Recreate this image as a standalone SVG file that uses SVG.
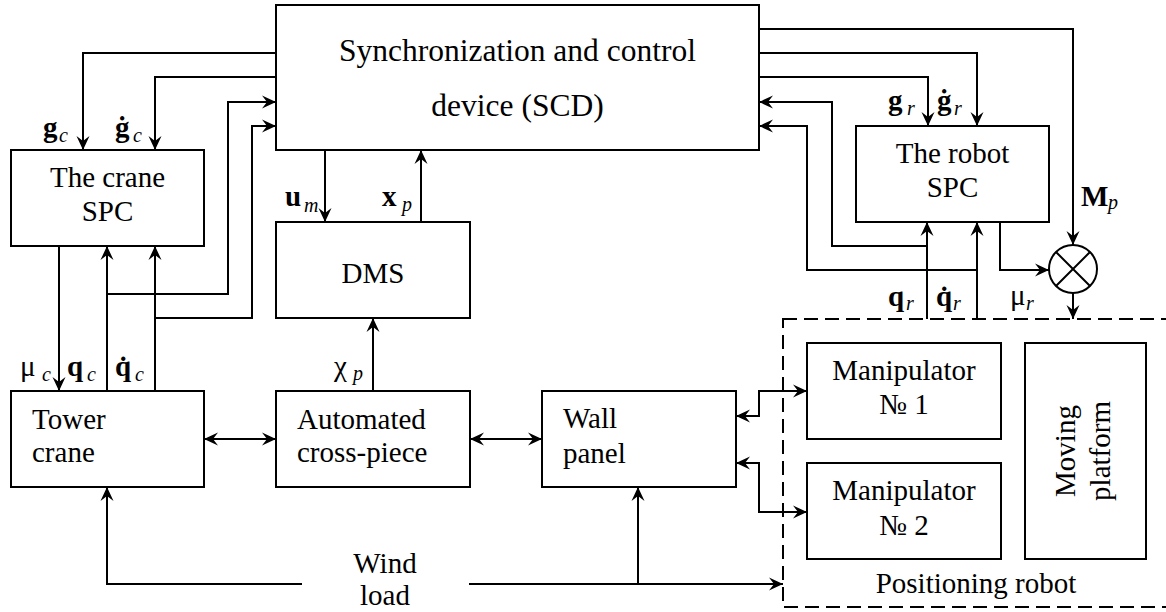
<svg xmlns="http://www.w3.org/2000/svg" width="1166" height="612" viewBox="0 0 1166 612" font-family="'Liberation Serif', 'Times New Roman', Tinos, 'Noto Serif', 'DejaVu Serif', Times, serif">
<style>
.box{fill:#fff;stroke:#000;stroke-width:2}
.ln{fill:none;stroke:#000;stroke-width:2}
.dash{fill:none;stroke:#000;stroke-width:2;stroke-dasharray:14 7}
text{font-size:29px;fill:#000}
.c{text-anchor:middle}
.b{font-weight:bold}
.s{font-style:italic;font-size:20px}
.big{font-size:31.5px}
</style>
<defs>
<marker id="ah" markerUnits="userSpaceOnUse" markerWidth="16" markerHeight="16" viewBox="-15 -8 16 16" refX="0" refY="0" orient="auto-start-reverse">
<path d="M0,0 L-14,-6.5 L-9,0 L-14,6.5 Z" fill="#000"/>
</marker>
</defs>
<rect width="1166" height="612" fill="#fff"/>

<g id="positioning-robot">
<rect class="dash" x="783" y="319" width="420" height="288"/>
<text class="c" x="976" y="593">Positioning robot</text>
</g>

<g id="scd">
<rect class="box" x="276" y="5" width="483" height="145"/>
<text class="c big" x="517.5" y="61">Synchronization and control</text>
<text class="c big" x="517.5" y="116">device (SCD)</text>
</g>

<g id="crane-spc">
<rect class="box" x="11" y="150" width="193" height="96"/>
<text class="c" x="107.5" y="187">The crane</text>
<text class="c" x="107.5" y="221">SPC</text>
</g>

<g id="robot-spc">
<rect class="box" x="856" y="126" width="193" height="96"/>
<text class="c" x="952.5" y="163">The robot</text>
<text class="c" x="952.5" y="197">SPC</text>
</g>

<g id="dms">
<rect class="box" x="276" y="222" width="194" height="96"/>
<text class="c" x="373" y="283">DMS</text>
</g>

<g id="tower-crane">
<rect class="box" x="11" y="391" width="193" height="96"/>
<text x="32" y="429">Tower</text>
<text x="32" y="462">crane</text>
</g>

<g id="cross-piece">
<rect class="box" x="276" y="391" width="194" height="96"/>
<text x="297" y="429">Automated</text>
<text x="297" y="462">cross-piece</text>
</g>

<g id="wall-panel">
<rect class="box" x="542" y="391" width="194" height="96"/>
<text x="563" y="428">Wall</text>
<text x="563" y="463">panel</text>
</g>

<g id="manipulator-1">
<rect class="box" x="807" y="343" width="194" height="96"/>
<text class="c" x="904" y="380">Manipulator</text>
<text class="c" x="904" y="414">№ 1</text>
</g>

<g id="manipulator-2">
<rect class="box" x="807" y="463" width="194" height="96"/>
<text class="c" x="904" y="500">Manipulator</text>
<text class="c" x="904" y="535">№ 2</text>
</g>

<g id="moving-platform">
<rect class="box" x="1025" y="343" width="121" height="216"/>
<g transform="translate(1085,451) rotate(-90)">
<text class="c" x="0" y="-10">Moving</text>
<text class="c" x="0" y="25">platform</text>
</g>
</g>

<g id="multiplier">
<circle class="ln" cx="1073" cy="269" r="24"/>
<path class="ln" d="M1056,252 L1090,286 M1090,252 L1056,286"/>
</g>

<g id="connectors">
<polyline class="ln" points="276,53 83,53 83,150" marker-end="url(#ah)"/>
<polyline class="ln" points="276,77 155,77 155,150" marker-end="url(#ah)"/>
<polyline class="ln" points="59,246 59,391" marker-end="url(#ah)"/>
<polyline class="ln" points="107,391 107,246" marker-end="url(#ah)"/>
<polyline class="ln" points="107,294 228,294 228,102 276,102" marker-end="url(#ah)"/>
<polyline class="ln" points="155,391 155,246" marker-end="url(#ah)"/>
<polyline class="ln" points="155,318 252,318 252,126 276,126" marker-end="url(#ah)"/>
<polyline class="ln" points="325,150 325,222" marker-end="url(#ah)"/>
<polyline class="ln" points="421,222 421,150" marker-end="url(#ah)"/>
<polyline class="ln" points="373,391 373,318" marker-end="url(#ah)"/>
<polyline class="ln" points="204,439 276,439" marker-start="url(#ah)" marker-end="url(#ah)"/>
<polyline class="ln" points="470,439 542,439" marker-start="url(#ah)" marker-end="url(#ah)"/>
<polyline class="ln" points="736,416 759,416 759,391 807,391" marker-start="url(#ah)" marker-end="url(#ah)"/>
<polyline class="ln" points="736,463 759,463 759,512 807,512" marker-start="url(#ah)" marker-end="url(#ah)"/>
<polyline class="ln" points="302,584 107,584 107,487" marker-end="url(#ah)"/>
<polyline class="ln" points="469,584 783,584" marker-end="url(#ah)"/>
<polyline class="ln" points="638,584 638,487" marker-end="url(#ah)"/>
<polyline class="ln" points="759,29 1073,29 1073,245" marker-end="url(#ah)"/>
<polyline class="ln" points="759,53 977,53 977,126" marker-end="url(#ah)"/>
<polyline class="ln" points="759,77 928,77 928,126" marker-end="url(#ah)"/>
<polyline class="ln" points="927,319 927,222" marker-end="url(#ah)"/>
<polyline class="ln" points="927,246 832,246 832,102 759,102" marker-end="url(#ah)"/>
<polyline class="ln" points="977,319 977,222" marker-end="url(#ah)"/>
<polyline class="ln" points="977,270 807,270 807,126 759,126" marker-end="url(#ah)"/>
<polyline class="ln" points="1000,222 1000,270 1049,270" marker-end="url(#ah)"/>
<polyline class="ln" points="1073,293 1073,319" marker-end="url(#ah)"/>
</g>

<g id="labels">
<text><tspan class="b" x="43" y="137">g</tspan><tspan class="s" x="59" y="142">c</tspan></text>
<text><tspan class="b" x="115" y="137">ġ</tspan><tspan class="s" x="133" y="142">c</tspan></text>
<text><tspan x="20" y="376">μ</tspan><tspan class="s" x="42" y="381">c</tspan></text>
<text><tspan class="b" x="67" y="376">q</tspan><tspan class="s" x="87" y="381">c</tspan></text>
<text><tspan class="b" x="115" y="376">q̇</tspan><tspan class="s" x="135" y="381">c</tspan></text>
<text><tspan class="b" x="285" y="206">u</tspan><tspan class="s" x="304" y="212">m</tspan></text>
<text><tspan class="b" x="382" y="206">x</tspan><tspan class="s" x="402" y="211">p</tspan></text>
<text><tspan x="334" y="376">χ</tspan><tspan class="s" x="353" y="380">p</tspan></text>
<text><tspan class="b" x="888" y="110">g</tspan><tspan class="s" x="907" y="115">r</tspan></text>
<text><tspan class="b" x="937" y="110">ġ</tspan><tspan class="s" x="954" y="115">r</tspan></text>
<text><tspan class="b" x="888" y="306">q</tspan><tspan class="s" x="906" y="310">r</tspan></text>
<text><tspan class="b" x="936" y="306">q̇</tspan><tspan class="s" x="953" y="310">r</tspan></text>
<text><tspan x="1010" y="305">μ</tspan><tspan class="s" x="1026" y="310">r</tspan></text>
<text><tspan class="b" x="1081" y="206">M</tspan><tspan class="s" x="1108" y="209">p</tspan></text>
<text class="c" x="385" y="573">Wind</text>
<text class="c" x="385" y="605">load</text>
</g>
</svg>
